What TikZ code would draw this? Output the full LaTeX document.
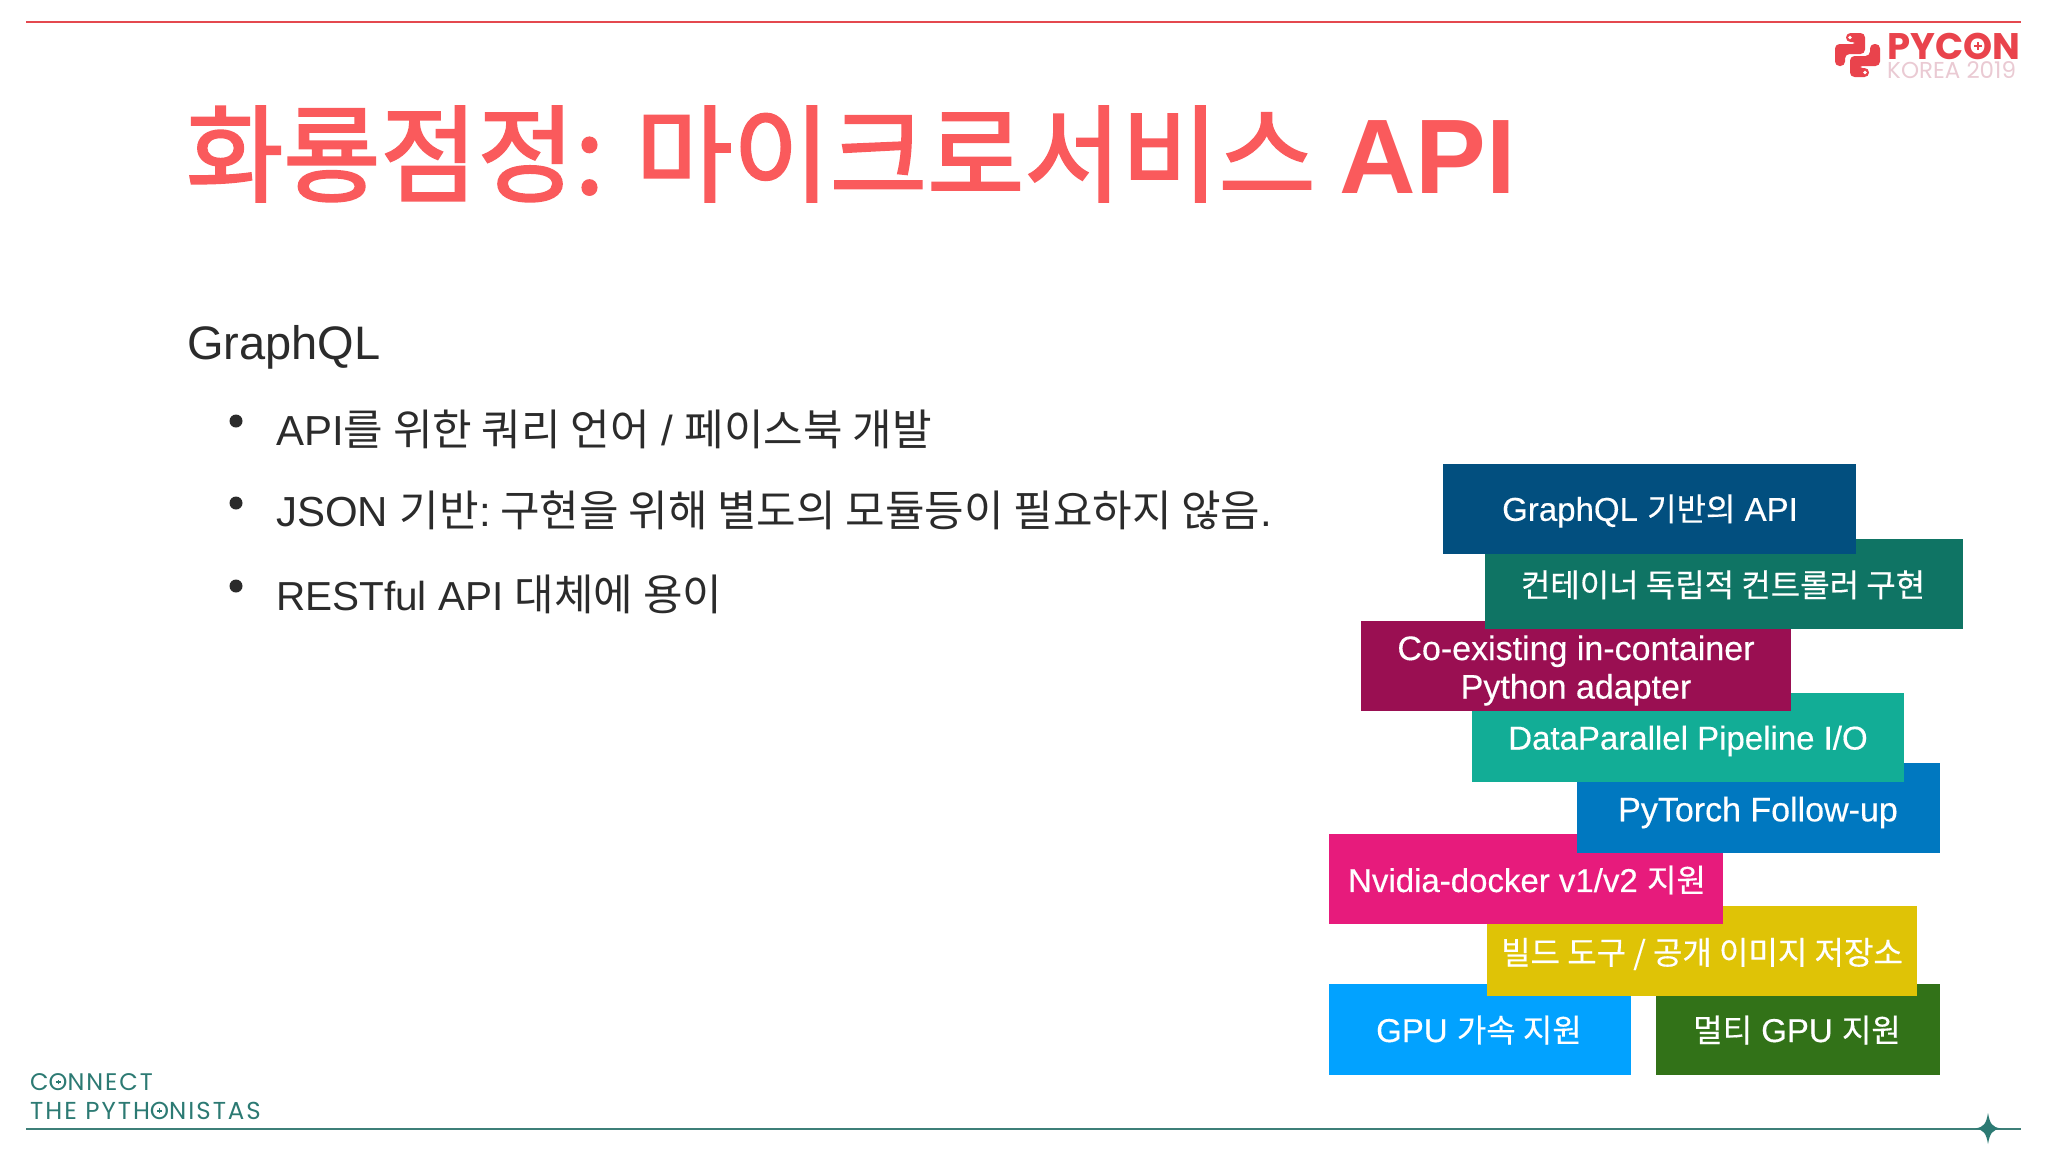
\documentclass[tikz,border=0pt]{standalone}
\usepackage{fontspec}
\setmainfont{Liberation Sans}
\newfontfamily\krf{Noto Sans CJK KR}
\newfontfamily\krb{Noto Sans CJK KR}[FakeBold=0.35]
\newfontfamily\lb{Liberation Sans}[FakeBold=0.35]
\newfontfamily\krt{Noto Sans CJK KR}[FakeBold=2]
\newfontfamily\latt{Liberation Sans}[BoldFont={Liberation Sans Bold}]
\newfontfamily\popf{Poppins}
\newfontfamily\popw{Poppins}[LetterSpace=8]
\newcommand{\krbody}[1]{{\fontsize{43}{50}\selectfont\krf #1}}
\newcommand{\kr}[1]{{\fontsize{32}{38.5}\selectfont\krb #1}}
\newcommand{\crossO}{{\sbox0{O}\rlap{O}\makebox[\wd0]{\raisebox{\dimexpr0.5\ht0-.025em}{\makebox[0pt]{\rule{.2em}{.05em}}}\raisebox{\dimexpr0.5\ht0-.1em}{\makebox[0pt]{\rule{.05em}{.2em}}}}}}
\definecolor{titlered}{HTML}{FA5A5C}
\definecolor{bodyink}{HTML}{2B2B2B}
\definecolor{lred}{HTML}{E4484F}
\definecolor{lgreen}{HTML}{3E7F78}
\definecolor{tgreen}{HTML}{2C7A73}
\definecolor{logored}{HTML}{E9434C}
\definecolor{logopale}{HTML}{EACAD3}
\definecolor{c1}{HTML}{024F7F}\definecolor{c2}{HTML}{0F7464}\definecolor{c3}{HTML}{9A0F52}
\definecolor{c4}{HTML}{12AD96}\definecolor{c5}{HTML}{0078C0}\definecolor{c6}{HTML}{E71B7C}
\definecolor{c7}{HTML}{DFC306}\definecolor{c8}{HTML}{02A2FF}\definecolor{cnine}{HTML}{327218}
\tikzset{
  lbl/.style={anchor=center,text=white,align=center,inner sep=0pt,font=\lb\fontsize{33}{38.5}\selectfont},
  lblwide/.style={lbl,font=\lb\fontsize{34}{38.5}\selectfont},
  bodytext/.style={anchor=west,inner sep=0pt,text=bodyink,font=\fontsize{42}{50}\selectfont},
  bulletdot/.style={circle,fill=bodyink,minimum size=13pt,inner sep=0pt},
}
\begin{document}
\begin{tikzpicture}[x=1pt,y=-1pt]
\useasboundingbox (0,0) rectangle (2048,1152);
\fill[white] (0,0) rectangle (2048,1152);
% rules
\coordinate (tl) at (26,22); \coordinate (tr) at (2021,22);
\coordinate (bl) at (26,1129); \coordinate (br) at (2021,1129);
\draw[lred,line width=1.8pt] (tl) -- (tr);
\draw[lgreen,line width=1.8pt] (bl) -- (br);
% star
\fill[tgreen] (1988,1113) .. controls (1990,1124) and (1992,1127) .. (2001,1128.5) .. controls (1992,1130) and (1990,1133) .. (1988,1144) .. controls (1986,1133) and (1984,1130) .. (1975,1128.5) .. controls (1984,1127) and (1986,1124) .. (1988,1113) -- cycle;
% title
\node[anchor=west,inner sep=0pt,text=titlered,font=\krt\fontsize{105.6}{120}\selectfont] (title) at (186,154) {화룡점정: 마이크로서비스 {\latt\bfseries\fontsize{106}{120}\selectfont API}};
% body
\node[bodytext,font=\fontsize{47}{54}\selectfont] (gq) at (187,347) {GraphQL};
\node[bulletdot] (b1) at (236,421) {};
\node[bulletdot] (b2) at (236,503) {};
\node[bulletdot] (b3) at (236,586) {};
\node[bodytext] (t1) at (276,429) {API\krbody{를 위한 쿼리 언어} / \krbody{페이스북 개발}};
\node[bodytext] (t2) at (276,510) {JSON \krbody{기반}:\kern-6pt{} \krbody{구현을 위해 별도의 모듈등이 필요하지 않음}.};
\node[bodytext,font=\fontsize{40.5}{50}\selectfont] (t3) at (276,594) {RESTful API \krbody{대체에 용이}};
% stacked boxes, bottom of the pile first
\fill[cnine] (1656,984) rectangle (1940,1074.5);
\fill[c8] (1328.7,984) rectangle (1631,1074.5);
\fill[c7] (1487,906) rectangle (1917,996.3);
\fill[c6] (1328.7,833.7) rectangle (1723,924);
\fill[c5] (1576.8,763) rectangle (1940,853.4);
\fill[c4] (1472,692.5) rectangle (1904,782.4);
\fill[c3] (1360.6,621) rectangle (1791,711.4);
\fill[c2] (1485,538.7) rectangle (1963,628.7);
\fill[c1] (1442.7,464) rectangle (1856,554.3);
\node[lbl] (l1) at (1650,511) {GraphQL \kr{기반의} API};
\node[lbl] (l2) at (1723,585) {\kr{컨테이너 독립적 컨트롤러 구현}};
\node[lblwide] (l3) at (1576,670.5) {Co-existing in-container\\Python adapter};
\node[lbl] (l4) at (1688,741) {DataParallel Pipeline I/O};
\node[lblwide] (l5) at (1758,812.5) {PyTorch Follow-up};
\node[lbl] (l6) at (1527,880) {Nvidia-docker v1/v2 \kr{지원}};
\node[lbl] (l7) at (1702,954) {\kr{빌드 도구 / 공개 이미지 저장소}};
\node[lbl] (l8) at (1479,1030) {GPU \kr{가속 지원}};
\node[lbl] (l9) at (1797,1030) {\kr{멀티} GPU \kr{지원}};
% logo
\begin{scope}[shift={(1835,33)}]
\fill[logored,rounded corners=4.5pt] (11,0) -- (30,0) -- (30,21) -- (10,21) -- (10,33) -- (0,33) -- (0,11) -- (22,11) -- (22,9) -- (11,9) -- cycle;
\fill[logored,rounded corners=4.5pt] (34,44) -- (15,44) -- (15,23) -- (35,23) -- (35,11) -- (45,11) -- (45,33) -- (23,33) -- (23,35) -- (34,35) -- cycle;
\fill[white] (15,4.5) circle (1.8);
\fill[white] (30,39.5) circle (1.8);
\end{scope}
\node[anchor=west,inner sep=0pt,text=logored,font=\popf\bfseries\fontsize{37}{40}\selectfont] (pycon) at (1887,46) {PYC\crossO N};
\node[anchor=west,inner sep=0pt,text=logopale,font=\popf\fontsize{23}{26}\selectfont] (korea) at (1887,70) {KOREA 2019};
% tagline
\node[anchor=west,inner sep=0pt,text=tgreen,font=\popw\fontsize{24}{27}\selectfont] (ct1) at (30,1082) {C\crossO NNECT};
\node[anchor=west,inner sep=0pt,text=tgreen,font=\popw\fontsize{24.5}{27}\selectfont] (ct2) at (30,1111) {THE PYTH\crossO NISTAS};
\end{tikzpicture}
\end{document}
